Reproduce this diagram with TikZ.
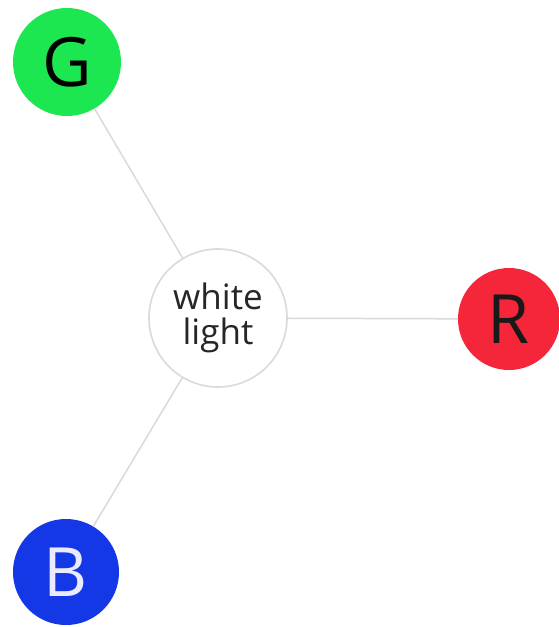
\documentclass[tikz,border=0pt]{standalone}
\usepackage{fontspec}
\setmainfont{Open Sans}
\definecolor{gfill}{HTML}{1CE650}
\definecolor{rfill}{HTML}{F5263A}
\definecolor{bfill}{HTML}{1438E6}
\definecolor{linegray}{HTML}{DADADA}
\begin{document}
\begin{tikzpicture}[x=1pt,y=-1pt,
  ball/.style={circle,inner sep=0pt,minimum size=#1},
  conn/.style={draw=linegray,line width=1.5pt}]
\useasboundingbox (0,0) rectangle (559,627);
\fill[white] (0,0) rectangle (559,627);
\node[ball=108pt,fill=gfill,text=black,font=\fontsize{68}{68}\selectfont] (G) at (67,62) {G};
\node[ball=102pt,fill=rfill,text=black!90,font=\fontsize{68}{68}\selectfont] (R) at (509,319) {R};
\node[ball=106pt,fill=bfill,text=white!92!blue,font=\fontsize{68}{68}\selectfont] (B) at (66,572) {B};
\node[ball=138pt,fill=white,draw=linegray,line width=1.6pt,align=center,text=black!85,font=\fontsize{35}{35}\selectfont] (W) at (218,318) {white\\light};
\draw[conn] (W) -- (G);
\draw[conn] (W) -- (R);
\draw[conn] (W) -- (B);
\end{tikzpicture}
\end{document}
